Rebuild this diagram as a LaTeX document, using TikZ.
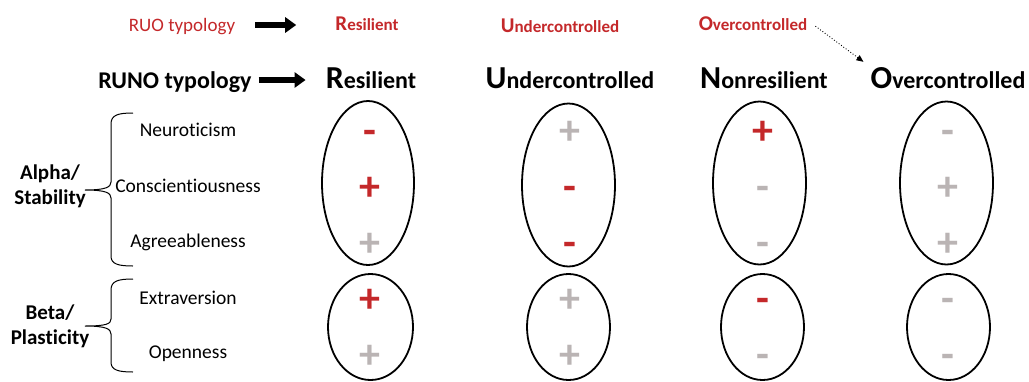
\documentclass[tikz,border=0pt]{standalone}
\usepackage{fontspec}
\setmainfont{Carlito}[Ligatures=NoCommon]
\usetikzlibrary{arrows.meta,shapes.geometric}
\definecolor{signred}{RGB}{196,40,42}
\definecolor{signgray}{RGB}{186,180,180}

\begin{document}
\begin{tikzpicture}[x=1pt,y=-1pt,
  trait/.style={font=\fontsize{19.5}{19.5}\selectfont, inner sep=0},
  factor/.style={font=\bfseries\fontsize{21}{25}\selectfont, align=center, inner sep=0},
  hdr/.style={font=\bfseries\fontsize{24}{24}\selectfont, anchor=base, inner sep=0},
  oldhdr/.style={font=\bfseries\fontsize{17}{17}\selectfont, anchor=base, text=signred, inner sep=0},
  oval/.style={draw, ellipse, line width=1.8pt, inner sep=0},
  sgn/.style={font=\bfseries\fontsize{42}{42}\selectfont, anchor=base, inner sep=0},
  hi/.style={sgn, text=signred},
  lo/.style={sgn, text=signgray},
  bigarrow/.style={line width=5.5pt, -{Triangle[length=11pt,width=15pt]}},
  bracepath/.style={line width=1pt}]
\useasboundingbox (0,0) rectangle (1029,381);

% typology headers
\newcommand{\bigini}[1]{{\fontsize{21}{21}\selectfont #1}}
\newcommand{\hugeini}[1]{{\fontsize{32}{32}\selectfont #1}}
\node[font=\fontsize{19}{19}\selectfont, text=signred, anchor=base, inner sep=0] (ruo) at (182,31) {RUO typology};
\node[oldhdr] (r1) at (367,30) {\bigini{R}esilient};
\node[oldhdr] (u1) at (560,32) {\bigini{U}ndercontrolled};
\node[oldhdr] (o1) at (753,30) {\bigini{O}vercontrolled};

\node[hdr] (runo) at (175,88) {RUNO typology};
\node[hdr] (r2) at (371,88) {\hugeini{R}esilient};
\node[hdr] (u2) at (570,88) {\hugeini{U}ndercontrolled};
\node[hdr] (n2) at (764,88) {\hugeini{N}onresilient};
\node[hdr] (o2) at (948,88) {\hugeini{O}vercontrolled};

\draw[bigarrow] ([xshift=20pt]ruo.east |- 0,25) -- ([xshift=-39pt]r1.west |- 0,25);
\draw[bigarrow] ([xshift=7pt]runo.east |- 0,80) -- ([xshift=-20pt]r2.west |- 0,80);
\draw[dotted, line width=0.9pt, -{Triangle[length=7pt,width=6pt]}]
  ([xshift=8pt,yshift=-3pt]o1.east) -- ([xshift=-7pt,yshift=5pt]o2.north west);

% trait labels
\node[trait] (neu) at (188,130) {Neuroticism};
\node[trait] (con) at (188,186) {Conscientiousness};
\node[trait] (agr) at (188,242) {Agreeableness};
\node[trait] (ext) at (188,298) {Extraversion};
\node[trait] (ope) at (188,354) {Openness};

\node[factor] (alpha) at (50,186) {Alpha/\\Stability};
\node[factor] (beta) at (50,326) {Beta/\\Plasticity};

% braces
\draw[bracepath] (133,113) .. controls (118,113) and (111,115) .. (111,124) -- (111,182)
  .. controls (111,187) and (106,190) .. (85,190)
  .. controls (106,190) and (111,193) .. (111,198) -- (111,256)
  .. controls (111,264) and (118,266) .. (133,266);
\draw[bracepath] (133,279) .. controls (118,279) and (111,281) .. (111,290) -- (111,319)
  .. controls (111,324) and (106,326) .. (85,326)
  .. controls (106,326) and (111,329) .. (111,334) -- (111,362)
  .. controls (111,370) and (118,372) .. (133,372);

% profile ellipses
\node[oval, minimum width=92pt, minimum height=164pt] (resA) at (368,183) {};
\node[oval, minimum width=93pt, minimum height=163pt] (undA) at (568.5,185) {};
\node[oval, minimum width=93pt, minimum height=163pt] (nonA) at (759.5,183) {};
\node[oval, minimum width=93pt, minimum height=163pt] (ovA) at (946.5,183) {};
\node[oval, minimum width=85pt, minimum height=106pt] (resB) at (370.5,327) {};
\node[oval, minimum width=83pt, minimum height=106pt] (undB) at (568.5,327) {};
\node[oval, minimum width=83pt, minimum height=106pt] (nonB) at (762.5,327) {};
\node[oval, minimum width=83pt, minimum height=106pt] (ovB) at (948.5,327) {};

% signs (baseline = row centre + 13)
% Resilient
\node[hi] (s11) at (370,144) {-};
\node[hi] (s12) at (370,200) {+};
\node[lo] (s13) at (370,256) {+};
\node[hi] (s14) at (370,312) {+};
\node[lo] (s15) at (370,368) {+};
% Undercontrolled
\node[lo] (s21) at (570,144) {+};
\node[hi] (s22) at (570,200) {-};
\node[hi] (s23) at (570,256) {-};
\node[lo] (s24) at (570,312) {+};
\node[lo] (s25) at (570,368) {+};
% Nonresilient
\node[hi] (s31) at (763,144) {+};
\node[lo] (s32) at (763,200) {-};
\node[lo] (s33) at (763,256) {-};
\node[hi] (s34) at (763,312) {-};
\node[lo] (s35) at (763,368) {-};
% Overcontrolled
\node[lo] (s41) at (947.5,144) {-};
\node[lo] (s42) at (947.5,200) {+};
\node[lo] (s43) at (947.5,256) {+};
\node[lo] (s44) at (947.5,312) {-};
\node[lo] (s45) at (947.5,368) {-};
\end{tikzpicture}
\end{document}
